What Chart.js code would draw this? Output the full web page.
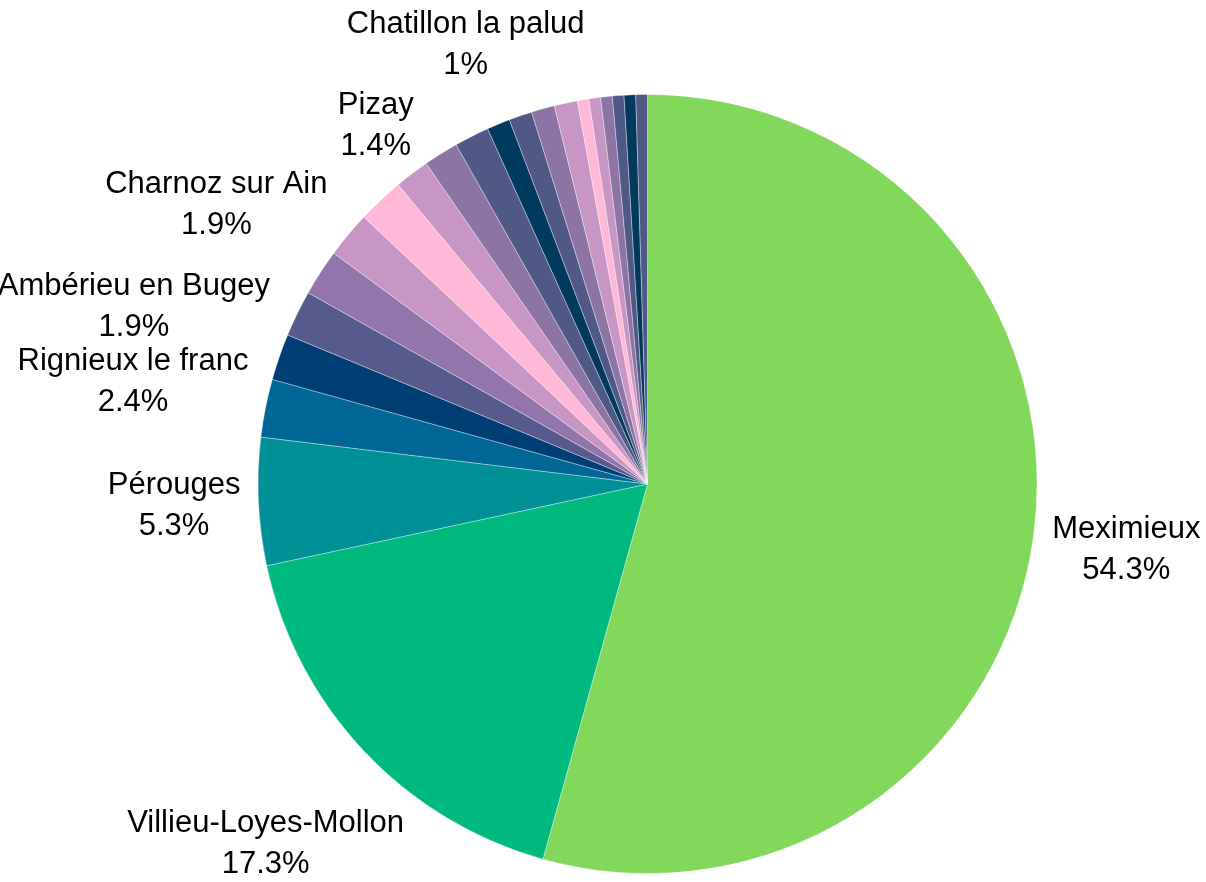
<!DOCTYPE html>
<html>
<head>
<meta charset="utf-8">
<script src="https://cdn.jsdelivr.net/npm/chart.js@4/dist/chart.umd.min.js"></script>
<style>
  html, body { margin: 0; padding: 0; background: #ffffff; }
  #wrap { width: 1206px; height: 882px; }
</style>
</head>
<body>
<div id="wrap"><canvas id="c" width="1206" height="882"></canvas></div>
<script>
// Categories (names that are not printed on the chart are unknown and left blank)
const categories = [
  'Meximieux', 'Villieu-Loyes-Mollon', 'Pérouges', 'Rignieux le franc',
  'Ambérieu en Bugey', '', 'Charnoz sur Ain', '', '',
  'Pizay', '', '', 'Chatillon la palud', '', '', '',
  '', '', '', '', '', ''
];
// Counts per commune
const counts = [113, 36, 11, 5, 4, 4, 4, 4, 4, 3, 3, 3, 2, 2, 2, 2, 1, 1, 1, 1, 1, 1];
// Slice colours
const sliceColors = [
  '#81d85a', '#00b97f', '#009196', '#006796', '#003f73', '#575a8c', '#9175ab',
  '#c896c4', '#ffb8d8', '#c896c4', '#8c74a4', '#505886', '#003b5e', '#505886',
  '#8c74a4', '#c896c4', '#ffb8d8', '#c896c4', '#8c74a4', '#505886', '#003b5e', '#505886'
];

const FONT_PX = 31;
const FONT = FONT_PX + 'px "Liberation Sans", Arial, sans-serif';
const LINE_H = 41;
const INK_H = 69;
const BOX_H = 50;
const GAP = 17;
const PUSH = 54;

function fmtPct(v, total) {
  const p = Math.round(v / total * 1000) / 10;
  return String(p) + '%';
}

const outsideLabels = {
  id: 'outsideLabels',
  afterDatasetsDraw(chart) {
    const ctx = chart.ctx;
    const meta = chart.getDatasetMeta(0);
    const data = chart.data.datasets[0].data;
    const total = data.reduce((a, b) => a + b, 0);
    ctx.save();
    ctx.font = FONT;
    const items = [];
    meta.data.forEach((arc, i) => {
      const name = chart.data.labels[i];
      if (!name) return;
      const p = arc.getProps(['x', 'y', 'startAngle', 'endAngle', 'outerRadius'], true);
      const a = (p.startAngle + p.endAngle) / 2;
      const ux = Math.cos(a), uy = Math.sin(a);
      const lines = [name, fmtPct(data[i], total)];
      const w = Math.max(...lines.map(l => ctx.measureText(l).width));
      const d = p.outerRadius + GAP + Math.abs(ux) * w / 2 + Math.abs(uy) * BOX_H / 2;
      items.push({ cx: p.x + d * ux, cy: p.y + d * uy, w, lines });
    });
    const placed = [];
    for (let k = items.length - 1; k >= 0; k--) {
      const it = items[k];
      for (const q of placed) {
        const ox = Math.abs(it.cx - q.cx) < (it.w + q.w) / 2;
        const oy = Math.abs(it.cy - q.cy) < INK_H;
        if (ox && oy) {
          it.cy = it.cy >= q.cy ? q.cy + INK_H + PUSH : q.cy - INK_H - PUSH;
        }
      }
      placed.push(it);
    }
    ctx.fillStyle = '#000000';
    ctx.textAlign = 'center';
    ctx.textBaseline = 'middle';
    for (const it of items) {
      ctx.fillText(it.lines[0], it.cx, it.cy - LINE_H / 2);
      ctx.fillText(it.lines[1], it.cx, it.cy + LINE_H / 2);
    }
    ctx.restore();
  }
};

function draw() {
  new Chart(document.getElementById('c'), {
    type: 'pie',
    data: {
      labels: categories,
      datasets: [{
        data: counts,
        backgroundColor: sliceColors,
        borderColor: 'rgba(255,255,255,0.35)',
        borderWidth: 1
      }]
    },
    options: {
      responsive: false,
      animation: false,
      layout: { padding: { top: 94, bottom: 8, left: 89, right: 0 } },
      plugins: {
        legend: { display: false },
        tooltip: { enabled: false }
      }
    },
    plugins: [outsideLabels]
  });
}

if (document.fonts && document.fonts.load) {
  document.fonts.load(FONT).then(draw, draw);
} else {
  draw();
}
</script>
</body>
</html>
